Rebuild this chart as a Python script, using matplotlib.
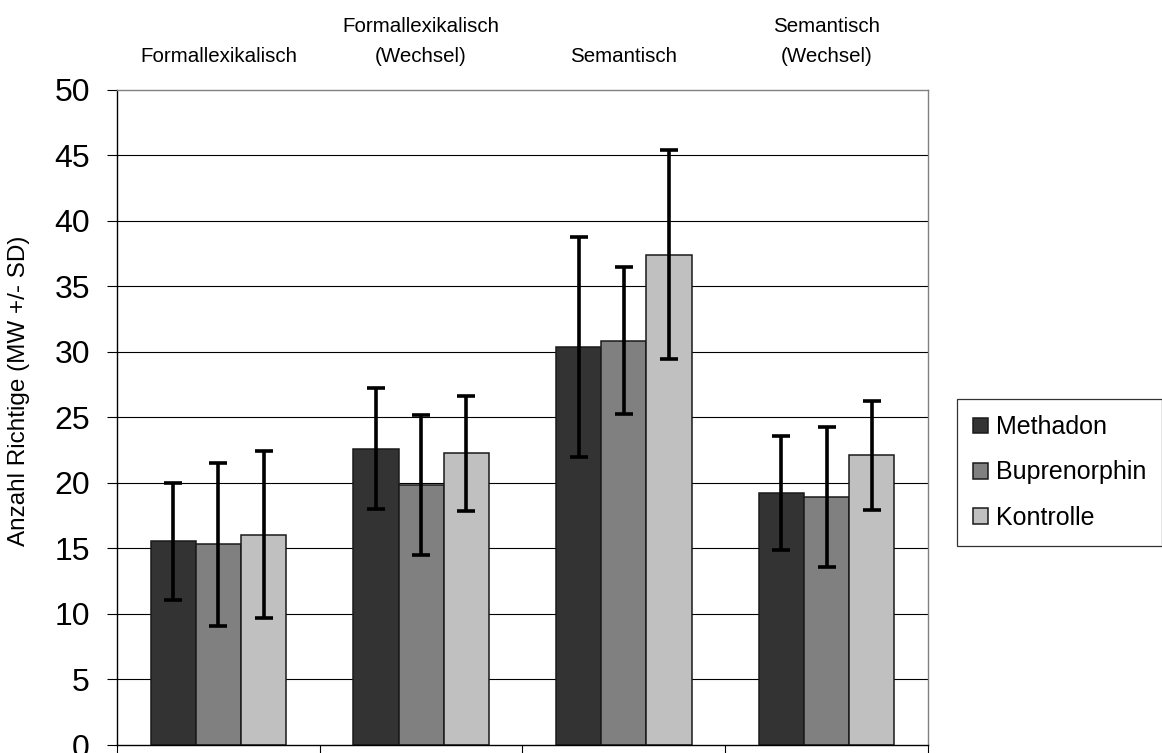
import numpy as np
import matplotlib
matplotlib.use('Agg')
import matplotlib.pyplot as plt
from matplotlib.transforms import blended_transform_factory

plt.rcParams['font.family'] = ['Liberation Sans', 'DejaVu Sans']

# Test categories (shown above the plot) and groups
categories = ["Formallexikalisch", "Formallexikalisch\n(Wechsel)",
              "Semantisch", "Semantisch\n(Wechsel)"]
groups = ["Methadon", "Buprenorphin", "Kontrolle"]

# Mean (MW) and standard deviation (SD) per group
methadon_mw = [15.55, 22.6, 30.35, 19.2]
methadon_sd = [4.45, 4.6, 8.4, 4.35]
bupre_mw = [15.3, 19.85, 30.85, 18.9]
bupre_sd = [6.2, 5.35, 5.6, 5.35]
kontrolle_mw = [16.05, 22.25, 37.4, 22.1]
kontrolle_sd = [6.35, 4.4, 7.95, 4.15]

y_ticks = [0, 5, 10, 15, 20, 25, 30, 35, 40, 45, 50]

means = [methadon_mw, bupre_mw, kontrolle_mw]
sds = [methadon_sd, bupre_sd, kontrolle_sd]
colors = ['#333333', '#808080', '#c0c0c0']

fig = plt.figure(figsize=(11.62, 7.53), dpi=100)
ax = fig.add_axes([0.1007, 0.0106, 0.6979, 0.8705])

x = np.arange(1, len(categories) + 1)
width = 0.223

# Grid lines behind the bars
for yv in y_ticks[1:-1]:
    ax.axhline(yv, color='black', linewidth=0.8, zorder=0)

for i, (name, mw, sd, col) in enumerate(zip(groups, means, sds, colors)):
    pos = x + (i - 1) * width
    ax.bar(pos, mw, width=width, color=col, edgecolor='#1a1a1a',
           linewidth=1.1, label=name, zorder=2)
    ax.errorbar(pos, mw, yerr=sd, fmt='none', ecolor='black',
                elinewidth=2.6, capsize=6.5, capthick=2.6, zorder=3)

ax.set_xlim(0.5, len(categories) + 0.5)
ax.set_ylim(0, 50)
ax.set_yticks(y_ticks)
ax.tick_params(axis='y', labelsize=23, length=7.5, width=0.8, pad=12,
               direction='out')

# Category boundaries as x ticks, no labels
ax.set_xticks(np.arange(0.5, len(categories) + 1, 1.0))
ax.set_xticklabels([])
ax.tick_params(axis='x', length=6, width=0.8, direction='out')

ax.spines['left'].set_color('black')
ax.spines['bottom'].set_color('black')
ax.spines['top'].set_color('#808080')
ax.spines['right'].set_color('#808080')
for sp in ax.spines.values():
    sp.set_linewidth(1.0)

ax.set_ylabel('Anzahl Richtige (MW +/- SD)', fontsize=17.5)
ax.yaxis.set_label_coords(-0.107, 0.54)

# Category names above the plot area
trans = blended_transform_factory(ax.transData, ax.transAxes)
for xi, cat in zip(x, categories):
    ax.text(xi, 1.036, cat, transform=trans, ha='center', va='bottom',
            fontsize=14.8, linespacing=1.75, multialignment='center')

leg = fig.legend(loc='upper left', bbox_to_anchor=(957 / 1162, 1 - 399 / 753),
                 fontsize=18, frameon=True, fancybox=False, shadow=False,
                 handlelength=0.6, handleheight=0.6, handletextpad=0.3,
                 labelspacing=0.85, borderpad=0.65, borderaxespad=0)
leg.get_frame().set_edgecolor('black')
leg.get_frame().set_linewidth(0.9)

plt.savefig('out.png', dpi=100)
